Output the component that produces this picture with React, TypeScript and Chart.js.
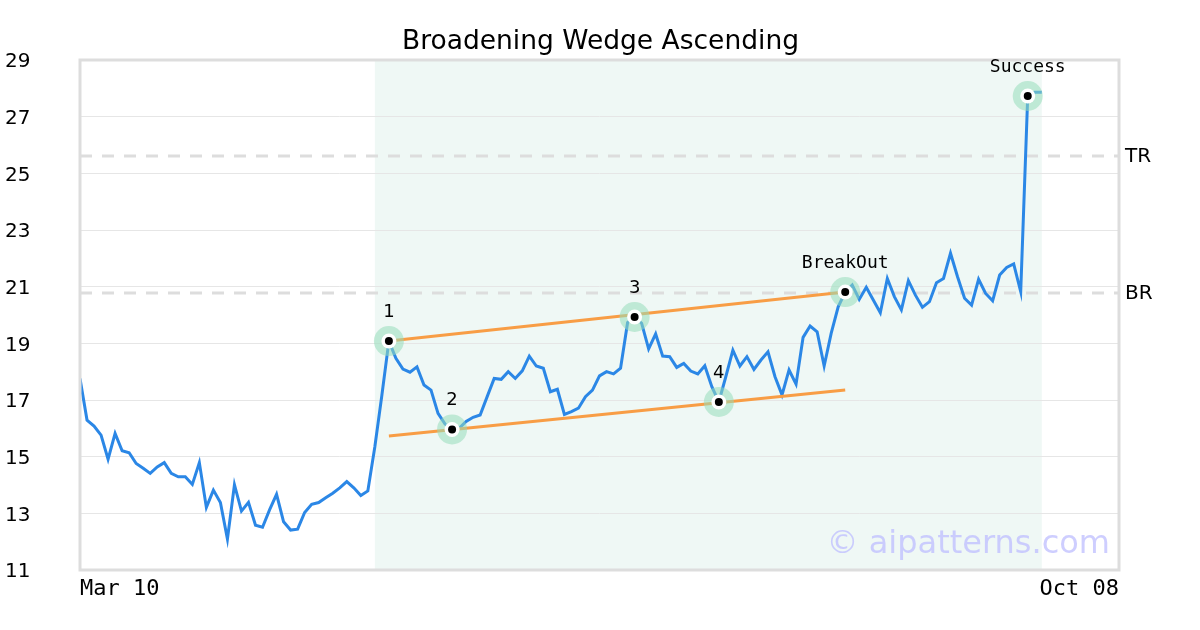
import { useEffect, useRef } from 'react';
import { Chart, registerables } from 'chart.js';

Chart.register(...registerables);

// ---- data ----
const prices = [
  17.76, 16.29, 16.08, 15.76, 14.91, 15.82, 15.21, 15.14, 14.76, 14.59,
  14.41, 14.64, 14.79, 14.41, 14.29, 14.29, 14.02, 14.79, 13.21, 13.82,
  13.38, 12.09, 14.01, 13.08, 13.39, 12.58, 12.51, 13.12, 13.67, 12.70,
  12.41, 12.44, 13.03, 13.32, 13.38, 13.55, 13.71, 13.90, 14.12, 13.90,
  13.63, 13.79, 15.35, 17.17, 19.08, 18.47, 18.09, 17.98, 18.17, 17.53,
  17.35, 16.53, 16.15, 15.96, 16.00, 16.24, 16.39, 16.47, 17.12, 17.76,
  17.73, 18.00, 17.76, 18.03, 18.55, 18.20, 18.12, 17.29, 17.38, 16.49,
  16.59, 16.71, 17.12, 17.35, 17.85, 18.00, 17.92, 18.12, 19.73, 19.93,
  19.71, 18.80, 19.33, 18.55, 18.53, 18.15, 18.29, 18.02, 17.92, 18.21,
  17.47, 16.93, 17.83, 18.76, 18.20, 18.53, 18.08, 18.41, 18.70, 17.82,
  17.18, 18.06, 17.56, 19.21, 19.61, 19.41, 18.20, 19.35, 20.29, 20.81,
  21.06, 20.55, 20.98, 20.53, 20.08, 21.29, 20.65, 20.18, 21.21, 20.70,
  20.27, 20.47, 21.14, 21.29, 22.18, 21.35, 20.59, 20.35, 21.26, 20.76,
  20.50, 21.41, 21.68, 21.80, 20.82, 27.73, 27.86, 27.86,
];

const xTickValues = [0, 148];
const xTickLabels = ['Mar 10', 'Oct 08'];
const xMax = 148;

const yMin = 11;
const yMax = 29;
const yStep = 2;

const patternStart = 42;
const patternEnd = 137;

const pivotIdx = [44, 53, 79, 91, 109, 135];
const pivotLabels = ['1', '2', '3', '4', 'BreakOut', 'Success'];

const upperX = [44, 109];
const upperY = [19.08, 20.81];
const lowerX = [44, 109];
const lowerY = [15.73, 17.35];

const levelValues = [25.61, 20.78];
const levelLabels = ['TR', 'BR'];

const chartTitle = 'Broadening Wedge Ascending';
const watermark = '\u00A9 aipatterns.com';

// ---- styles ----
const SANS = '"DejaVu Sans", sans-serif';
const MONO = '"DejaVu Sans Mono", monospace';

const overlayPlugin = {
  id: 'overlay',
  beforeDraw(chart: any) {
    const { ctx, chartArea: a, scales } = chart;
    const x = scales.x;
    const x0 = x.getPixelForValue(patternStart);
    const x1 = x.getPixelForValue(patternEnd);
    ctx.save();
    ctx.fillStyle = '#eff8f5';
    ctx.fillRect(x0, a.top, x1 - x0, a.bottom - a.top);
    ctx.restore();
  },
  beforeDatasetsDraw(chart: any) {
    const { ctx, chartArea: a, scales } = chart;
    const y = scales.y;
    ctx.save();
    ctx.strokeStyle = '#dddddd';
    ctx.lineWidth = 3;
    ctx.setLineDash([12, 10]);
    levelValues.forEach((v) => {
      const py = Math.round(y.getPixelForValue(v));
      ctx.beginPath();
      ctx.moveTo(a.left, py);
      ctx.lineTo(a.right, py);
      ctx.stroke();
    });
    ctx.restore();
  },
  afterDraw(chart: any) {
    const { ctx, chartArea: a, scales } = chart;
    const x = scales.x;
    const y = scales.y;
    ctx.save();
    // frame
    ctx.strokeStyle = '#dddddd';
    ctx.lineWidth = 3;
    ctx.strokeRect(a.left, a.top, a.right - a.left, a.bottom - a.top);

    // watermark
    ctx.fillStyle = 'rgba(190,190,255,0.75)';
    ctx.font = `32px ${SANS}`;
    ctx.textAlign = 'right';
    ctx.textBaseline = 'alphabetic';
    ctx.fillText(watermark, 1110, 553);

    // title
    ctx.fillStyle = '#000';
    ctx.font = `26.5px ${SANS}`;
    ctx.textAlign = 'center';
    ctx.fillText(chartTitle, (a.left + a.right) / 2 + 1, 49);

    // level labels
    ctx.font = `20px ${SANS}`;
    ctx.textAlign = 'left';
    ctx.textBaseline = 'middle';
    levelValues.forEach((v, i) => {
      ctx.fillText(levelLabels[i], a.right + 6, y.getPixelForValue(v) + 1);
    });

    // pivot labels
    ctx.textAlign = 'center';
    ctx.textBaseline = 'alphabetic';
    pivotIdx.forEach((idx, i) => {
      const lbl = pivotLabels[i];
      const isNum = !isNaN(Number(lbl));
      ctx.font = `18px ${isNum ? SANS : MONO}`;
      const px = x.getPixelForValue(idx);
      const py = y.getPixelForValue(prices[idx]);
      ctx.fillText(lbl, px, py - 24);
    });
    ctx.restore();
  },
};

export default function App() {
  const ref = useRef<HTMLCanvasElement | null>(null);

  useEffect(() => {
    if (!ref.current) return;
    const pricePts = prices.map((v, i) => ({ x: i, y: v }));
    const pivotPts = pivotIdx.map((i) => ({ x: i, y: prices[i] }));
    const upperPts = upperX.map((v, i) => ({ x: v, y: upperY[i] }));
    const lowerPts = lowerX.map((v, i) => ({ x: v, y: lowerY[i] }));

    const chart = new Chart(ref.current, {
      type: 'line',
      data: {
        datasets: [
          {
            label: 'price',
            data: pricePts,
            borderColor: '#2b87e6',
            borderWidth: 3,
            pointRadius: 0,
            tension: 0,
            order: 4,
          },
          {
            label: 'upper',
            data: upperPts,
            borderColor: '#f89d45',
            borderWidth: 3,
            pointRadius: 0,
            order: 3,
          },
          {
            label: 'lower',
            data: lowerPts,
            borderColor: '#f89d45',
            borderWidth: 3,
            pointRadius: 0,
            order: 3,
          },
          {
            label: 'halo',
            data: pivotPts,
            showLine: false,
            pointRadius: 15,
            pointBackgroundColor: 'rgba(150,220,185,0.55)',
            pointBorderWidth: 0,
            order: 2,
          },
          {
            label: 'ring',
            data: pivotPts,
            showLine: false,
            pointRadius: 7.5,
            pointBackgroundColor: '#ffffff',
            pointBorderWidth: 0,
            order: 1,
          },
          {
            label: 'dot',
            data: pivotPts,
            showLine: false,
            pointRadius: 4,
            pointBackgroundColor: '#000000',
            pointBorderWidth: 0,
            order: 0,
          },
        ],
      },
      options: {
        animation: false,
        responsive: true,
        maintainAspectRatio: false,
        layout: { padding: { left: 5, right: 81, top: 60, bottom: 0 } },
        plugins: {
          legend: { display: false },
          title: { display: false },
          tooltip: { enabled: false },
        },
        events: [],
        scales: {
          x: {
            type: 'linear',
            min: 0,
            max: xMax,
            grid: { display: false, drawTicks: false },
            border: { display: false },
            afterFit: (s: any) => {
              s.height = 60;
            },
            afterBuildTicks: (s: any) => {
              s.ticks = xTickValues.map((v) => ({ value: v }));
            },
            ticks: {
              autoSkip: false,
              maxRotation: 0,
              align: 'inner',
              padding: 6,
              color: '#000',
              font: { family: MONO, size: 22 },
              callback: (value: any) => {
                const i = xTickValues.indexOf(Number(value));
                return i >= 0 ? xTickLabels[i] : '';
              },
            },
          },
          y: {
            type: 'linear',
            min: yMin,
            max: yMax,
            grid: { color: '#e6e6e6', lineWidth: 1, drawTicks: false },
            border: { display: false },
            afterFit: (s: any) => {
              s.width = 75;
            },
            ticks: {
              stepSize: yStep,
              crossAlign: 'far',
              labelOffset: 2,
              color: '#000',
              font: { family: SANS, size: 20 },
            },
          },
        },
      },
      plugins: [overlayPlugin],
    } as any);
    return () => chart.destroy();
  }, []);

  return (
    <div style={{ position: 'fixed', left: 0, top: 0, width: 1200, height: 630, background: '#fff' }}>
      <canvas ref={ref} />
    </div>
  );
}
